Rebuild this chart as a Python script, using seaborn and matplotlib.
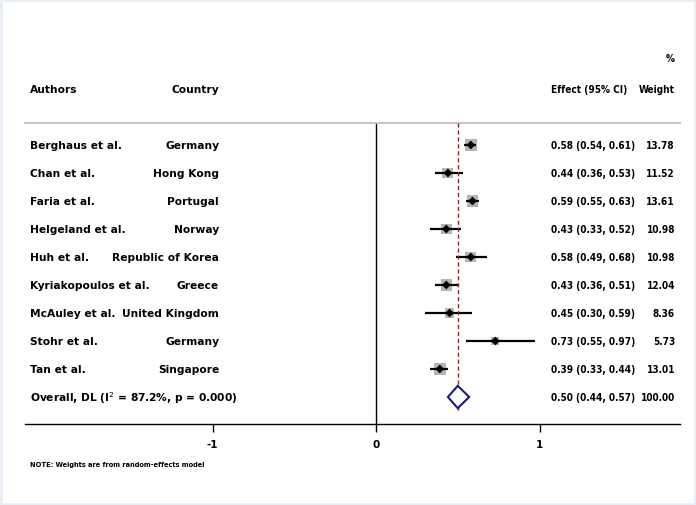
import numpy as np
import pandas as pd
import matplotlib
matplotlib.use("Agg")
import matplotlib.pyplot as plt
import seaborn as sns

# study data
authors = ["Berghaus et al.", "Chan et al.", "Faria et al.", "Helgeland et al.", "Huh et al.",
           "Kyriakopoulos et al.", "McAuley et al.", "Stohr et al.", "Tan et al."]
countries = ["Germany", "Hong Kong", "Portugal", "Norway", "Republic of Korea",
             "Greece", "United Kingdom", "Germany", "Singapore"]
effects = [0.58, 0.44, 0.59, 0.43, 0.58, 0.43, 0.45, 0.73, 0.39]
lower = [0.54, 0.36, 0.55, 0.33, 0.49, 0.36, 0.30, 0.55, 0.33]
upper = [0.61, 0.53, 0.63, 0.52, 0.68, 0.51, 0.59, 0.97, 0.44]
weights = [13.78, 11.52, 13.61, 10.98, 10.98, 12.04, 8.36, 5.73, 13.01]
overall = (0.50, 0.44, 0.57)
overall_label = "Overall, DL (I$^{2}$ = 87.2%, p = 0.000)"
xticks = [-1, 0, 1]

df = pd.DataFrame({"author": authors, "country": countries, "effect": effects,
                   "lo": lower, "hi": upper, "weight": weights})
df["row"] = np.arange(len(df))

sns.set_style("white")
plt.rcParams["font.family"] = ["DejaVu Sans"]
plt.rcParams["text.color"] = "black"
plt.rcParams["xtick.color"] = "black"

fig = plt.figure(figsize=(6.96, 5.06), dpi=100)
W, H = 696, 506
ax = fig.add_axes([25 / W, (H - 425) / H, (680 - 25) / W, (425 - 124) / H])

x0, x1 = (25 - 376) / 163.5, (680 - 376) / 163.5
ax.set_xlim(x0, x1)
ax.set_ylim(9 + 27 / 28, -22 / 28)

# confidence intervals
ax.hlines(df["row"], df["lo"], df["hi"], color="black", lw=1.6, zorder=3)
# weight boxes
sns.scatterplot(data=df, x="effect", y="row", ax=ax, marker="s", color="#b4b4b4",
                s=df["weight"] * 5.4, edgecolor="none", legend=False, zorder=2)
# point estimates
sns.scatterplot(data=df, x="effect", y="row", ax=ax, marker="D", color="black",
                s=20, edgecolor="none", legend=False, zorder=4)

# overall diamond
orow = len(df)
est, olo, ohi = overall
ax.fill([olo, est, ohi, est, olo], [orow, orow - 0.4, orow, orow + 0.4, orow],
        facecolor="white", edgecolor="#1a1a80", lw=1.5, zorder=4)
ax.vlines(est, -22 / 28, orow + 0.45, color="#a02020", lw=1, ls=(0, (3, 2)), zorder=3)

# null line
ax.axvline(0, color="black", lw=1, zorder=1)

for sp in ["left", "right"]:
    ax.spines[sp].set_visible(False)
ax.spines["top"].set_color("#c8c8c8")
ax.spines["top"].set_linewidth(1.5)
ax.spines["bottom"].set_color("black")
ax.spines["bottom"].set_linewidth(1)

ax.set_xticks(xticks)
ax.set_xticklabels([str(t) for t in xticks], fontsize=7.5, fontweight="bold")
ax.tick_params(axis="x", bottom=True, direction="out", length=6, width=1, color="black", pad=5)
ax.set_yticks([])
ax.set_xlabel("")
ax.set_ylabel("")

ax_left = (30 - 376) / 163.5
ax_country = (219 - 376) / 163.5
ax_effect = (551 - 376) / 163.5
ax_weight = (675 - 376) / 163.5
kw = dict(fontsize=7.7, fontweight="bold", va="center", clip_on=False)
nkw = dict(fontsize=7.2, fontweight="bold", fontstretch="condensed", va="center", clip_on=False)

# headers
hy = (90 - 146) / 28
ax.text(ax_left, hy, "Authors", ha="left", **kw)
ax.text(ax_country, hy, "Country", ha="right", **kw)
ax.text(ax_effect, hy, "Effect (95% CI)", ha="left", **nkw)
ax.text(ax_weight, hy, "Weight", ha="right", **nkw)
ax.text(ax_weight, (59 - 146) / 28, "%", ha="right", **nkw)

for i, r in df.iterrows():
    ax.text(ax_left, r["row"], r["author"], ha="left", **kw)
    ax.text(ax_country, r["row"], r["country"], ha="right", **kw)
    ax.text(ax_effect, r["row"], f"{r['effect']:.2f} ({r['lo']:.2f}, {r['hi']:.2f})", ha="left", **nkw)
    ax.text(ax_weight, r["row"], f"{r['weight']:.2f}", ha="right", **nkw)

ax.text(ax_left, orow, overall_label, ha="left", **kw)
ax.text(ax_effect, orow, f"{est:.2f} ({olo:.2f}, {ohi:.2f})", ha="left", **nkw)
ax.text(ax_weight, orow, "100.00", ha="right", **nkw)

fig.text(30 / W, 1 - 465 / H, "NOTE: Weights are from random-effects model",
         fontsize=4.8, fontweight="bold", va="center", ha="left")

fig.patches.append(plt.Rectangle((0.002, 0.002), 0.996, 0.996, transform=fig.transFigure,
                                 fill=False, edgecolor="#e6eef5", lw=2))

fig.savefig("out.png", dpi=100)
